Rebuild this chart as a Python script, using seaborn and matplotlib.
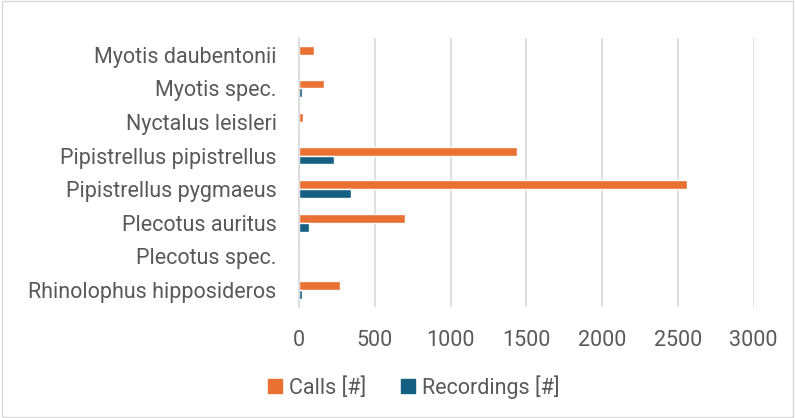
import matplotlib
matplotlib.use("Agg")
import matplotlib.pyplot as plt
from matplotlib.lines import Line2D
import seaborn as sns
import pandas as pd

species = ["Myotis daubentonii", "Myotis spec.", "Nyctalus leisleri",
           "Pipistrellus pipistrellus", "Pipistrellus pygmaeus",
           "Plecotus auritus", "Plecotus spec.", "Rhinolophus hipposideros"]
calls = [100, 167, 24, 1442, 2557, 699, 0, 273]
recordings = [10, 22, 0, 229, 344, 64, 0, 22]
series_names = ["Calls [#]", "Recordings [#]"]
colors = ["#E97132", "#156082"]
xticks = [0, 500, 1000, 1500, 2000, 2500, 3000]

df = pd.DataFrame({
    "species": species * 2,
    "value": calls + recordings,
    "series": [series_names[0]] * len(species) + [series_names[1]] * len(species),
})

sns.set_theme(style="white")
plt.rcParams['font.family'] = ['Roboto', 'DejaVu Sans']

fig = plt.figure(figsize=(7.95, 4.18), dpi=100)
ax = fig.add_axes([0.376, 0.266, 0.572, 0.643])
sns.barplot(data=df, y="species", x="value", hue="series", orient="h",
            palette=colors, saturation=1, width=0.52, ax=ax, legend=False)

ax.set_xlim(0, 3000)
ax.set_xticks(xticks)
ax.set_xticklabels([str(t) for t in xticks])
ax.set_xlabel("")
ax.set_ylabel("")
ax.grid(axis="x", color="#d9d9d9", linewidth=1.2)
ax.set_axisbelow(True)
for s in ["top", "right", "bottom"]:
    ax.spines[s].set_visible(False)
ax.spines["left"].set_color("#d9d9d9")
ax.spines["left"].set_linewidth(1.2)
ax.tick_params(axis="both", length=0, labelsize=15.5, colors="#595959")
ax.tick_params(axis="y", pad=16)
ax.tick_params(axis="x", pad=17)

handles = [Line2D([], [], linestyle="none", marker="s", markersize=9.5,
                  markerfacecolor=c, markeredgecolor=c) for c in colors]
fig.legend(handles, series_names, loc="center", bbox_to_anchor=(0.52, 0.074), ncol=2,
           frameon=False, fontsize=15.5, labelcolor="#595959", handlelength=0.7,
           handletextpad=0.3, columnspacing=1.6)

border = plt.Rectangle((0.002, 0.002), 0.996, 0.996, transform=fig.transFigure,
                       fill=False, edgecolor="#d9d9d9", linewidth=1)
fig.patches.append(border)

fig.savefig("out.png", dpi=100)
